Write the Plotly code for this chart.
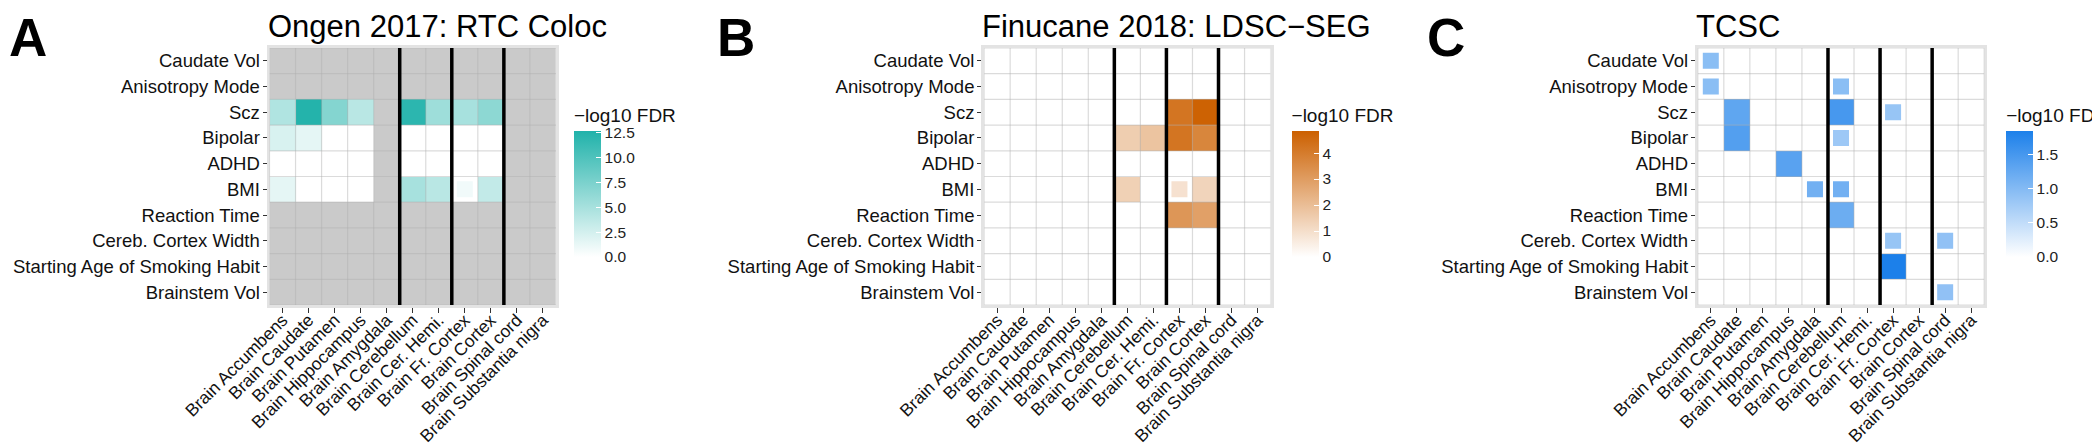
import plotly.graph_objects as go

# ---------------- data ----------------
cols = ["Brain Accumbens", "Brain Caudate", "Brain Putamen", "Brain Hippocampus",
        "Brain Amygdala", "Brain Cerebellum", "Brain Cer. Hemi.", "Brain Fr. Cortex",
        "Brain Cortex", "Brain Spinal cord", "Brain Substantia nigra"]
rows = ["Caudate Vol", "Anisotropy Mode", "Scz", "Bipolar", "ADHD", "BMI",
        "Reaction Time", "Cereb. Cortex Width", "Starting Age of Smoking Habit",
        "Brainstem Vol"]

N = None
ongen_values = [
    [N, N, N, N, N, N, N, N, N, N, N],
    [N, N, N, N, N, N, N, N, N, N, N],
    [4.5, 12.5, 7.0, 4.0, N, 12.0, 5.5, 5.0, 6.5, N, N],
    [2.2, 1.5, 0, 0, N, 0, 0, 0, 0, N, N],
    [0, 0, 0, 0, N, 0, 0, 0, 0, N, N],
    [1.5, 0, 0, 0, N, 5.0, 4.0, 0, 3.5, N, N],
    [N, N, N, N, N, N, N, N, N, N, N],
    [N, N, N, N, N, N, N, N, N, N, N],
    [N, N, N, N, N, N, N, N, N, N, N],
    [N, N, N, N, N, N, N, N, N, N, N],
]
ongen_small_rows = ["BMI"]
ongen_small_cols = ["Brain Fr. Cortex"]
ongen_small_vals = [0.8]
ongen_max = 12.7

finucane_values = [
    [0, 0, 0, 0, 0, 0, 0, 0, 0, 0, 0],
    [0, 0, 0, 0, 0, 0, 0, 0, 0, 0, 0],
    [0, 0, 0, 0, 0, 0, 0, 4.2, 4.8, 0, 0],
    [0, 0, 0, 0, 0, 1.5, 1.8, 4.2, 3.7, 0, 0],
    [0, 0, 0, 0, 0, 0, 0, 0, 0, 0, 0],
    [0, 0, 0, 0, 0, 1.4, 0, 0, 1.3, 0, 0],
    [0, 0, 0, 0, 0, 0, 0, 3.2, 2.9, 0, 0],
    [0, 0, 0, 0, 0, 0, 0, 0, 0, 0, 0],
    [0, 0, 0, 0, 0, 0, 0, 0, 0, 0, 0],
    [0, 0, 0, 0, 0, 0, 0, 0, 0, 0, 0],
]
finucane_small_rows = ["BMI"]
finucane_small_cols = ["Brain Fr. Cortex"]
finucane_small_vals = [0.9]
finucane_max = 4.85

tcsc_values = [
    [0, 0, 0, 0, 0, 0, 0, 0, 0, 0, 0],
    [0, 0, 0, 0, 0, 0, 0, 0, 0, 0, 0],
    [0, 1.3, 0, 0, 0, 1.5, 0, 0, 0, 0, 0],
    [0, 1.4, 0, 0, 0, 0, 0, 0, 0, 0, 0],
    [0, 0, 0, 1.35, 0, 0, 0, 0, 0, 0, 0],
    [0, 0, 0, 0, 0, 0, 0, 0, 0, 0, 0],
    [0, 0, 0, 0, 0, 1.2, 0, 0, 0, 0, 0],
    [0, 0, 0, 0, 0, 0, 0, 0, 0, 0, 0],
    [0, 0, 0, 0, 0, 0, 0, 1.85, 0, 0, 0],
    [0, 0, 0, 0, 0, 0, 0, 0, 0, 0, 0],
]
tcsc_small_rows = ["Caudate Vol", "Anisotropy Mode", "Anisotropy Mode", "Scz", "Bipolar",
                   "BMI", "BMI", "Cereb. Cortex Width", "Cereb. Cortex Width", "Brainstem Vol"]
tcsc_small_cols = ["Brain Accumbens", "Brain Accumbens", "Brain Cerebellum", "Brain Fr. Cortex",
                   "Brain Cerebellum", "Brain Amygdala", "Brain Cerebellum", "Brain Fr. Cortex",
                   "Brain Spinal cord", "Brain Spinal cord"]
tcsc_small_vals = [0.95, 0.95, 0.95, 0.85, 0.8, 1.15, 1.15, 0.85, 0.9, 0.9]
tcsc_max = 1.85

separators = [4.5, 6.5, 8.5]

titles = ["Ongen 2017: RTC Coloc", "Finucane 2018: LDSC\u2212SEG", "TCSC"]
letters = ["A", "B", "C"]
high_colors = ["#20B2AA", "#CC6000", "#1C80EA"]

# ---------------- layout geometry ----------------
W, H = 2100, 445
panel_left = [262, 978, 1693]
panel_w = 287
plot_top, plot_bot = 40, 297
cbar_left = [567, 1286, 2002]
letter_x = [0, 709, 1421]

FONT = "Liberation Sans, Arial, Helvetica, sans-serif"

fig = go.Figure()

panels = [
    (ongen_values, ongen_small_rows, ongen_small_cols, ongen_small_vals, ongen_max,
     [0, 2.5, 5, 7.5, 10, 12.5], ["0.0", "2.5", "5.0", "7.5", "10.0", "12.5"]),
    (finucane_values, finucane_small_rows, finucane_small_cols, finucane_small_vals, finucane_max,
     [0, 1, 2, 3, 4], ["0", "1", "2", "3", "4"]),
    (tcsc_values, tcsc_small_rows, tcsc_small_cols, tcsc_small_vals, tcsc_max,
     [0, 0.5, 1.0, 1.5], ["0.0", "0.5", "1.0", "1.5"]),
]

layout_updates = {}
shapes = []
annotations = []

for i, (vals, srows, scols, svals, vmax, tv, tt) in enumerate(panels):
    sfx = "" if i == 0 else str(i + 1)
    xa, ya = "x" + sfx, "y" + sfx
    ca = "coloraxis" + sfx

    # NA mask (grey tiles)
    mask = [[1 if v is None else None for v in r] for r in vals]
    if any(v is not None for r in mask for v in r):
        fig.add_trace(go.Heatmap(z=mask, x=cols, y=rows, xaxis=xa, yaxis=ya,
                                 colorscale=[[0, "#CACACA"], [1, "#CACACA"]],
                                 showscale=False, hoverinfo="skip"))
    fig.add_trace(go.Heatmap(z=vals, x=cols, y=rows, xaxis=xa, yaxis=ya, coloraxis=ca,
                             hoverongaps=False))
    fig.add_trace(go.Scatter(x=scols, y=srows, xaxis=xa, yaxis=ya, mode="markers",
                             marker=dict(symbol="square", size=16, color=svals, coloraxis=ca,
                                         line=dict(width=0)),
                             showlegend=False))

    x0 = panel_left[i] / W
    x1 = (panel_left[i] + panel_w) / W
    y0 = 1 - plot_bot / H
    y1 = 1 - plot_top / H
    layout_updates["xaxis" + sfx] = dict(
        domain=[x0, x1], anchor=ya, range=[-0.5, len(cols) - 0.5],
        tickangle=-45, tickfont=dict(size=17.5, color="#111", family=FONT),
        ticks="outside", ticklen=5, tickwidth=1.3, tickcolor="#333",
        ticklabelstandoff=-10,
        showgrid=False, zeroline=False, showline=True, mirror=True,
        linecolor="#E3E3E3", linewidth=3, automargin=False,
        categoryorder="array", categoryarray=cols)
    layout_updates["yaxis" + sfx] = dict(
        domain=[y0, y1], anchor=xa, range=[len(rows) - 0.5, -0.5],
        tickfont=dict(size=18.5, color="#111", family=FONT),
        ticks="outside", ticklen=4, tickwidth=1.3, tickcolor="#333",
        ticklabelstandoff=-1,
        showgrid=False, zeroline=False, showline=True, mirror=True,
        linecolor="#E3E3E3", linewidth=3, automargin=False,
        categoryorder="array", categoryarray=rows)
    layout_updates[ca] = dict(
        cmin=0, cmax=vmax,
        colorscale=[[0, "#FFFFFF"], [1, high_colors[i]]],
        colorbar=dict(
            x=cbar_left[i] / W, xanchor="left", xpad=0, ypad=0,
            y=1 - 97 / H, yanchor="top",
            lenmode="pixels", len=152, thickness=27, outlinewidth=0,
            tickvals=tv, ticktext=tt, ticks="inside", ticklen=5,
            tickcolor="white", tickwidth=1.2,
            tickfont=dict(size=15.5, color="#222", family=FONT),
            title=dict(text="\u2212log10 FDR", side="top",
                       font=dict(size=19, color="#111", family=FONT)),
        ))

    # cell grid lines
    for k in range(len(cols) + 1):
        shapes.append(dict(type="line", xref=xa, yref=ya, x0=k - 0.5, x1=k - 0.5,
                           y0=-0.5, y1=len(rows) - 0.5, layer="above",
                           line=dict(color="rgba(175,175,175,0.45)", width=1.2)))
    for k in range(len(rows) + 1):
        shapes.append(dict(type="line", xref=xa, yref=ya, y0=k - 0.5, y1=k - 0.5,
                           x0=-0.5, x1=len(cols) - 0.5, layer="above",
                           line=dict(color="rgba(175,175,175,0.45)", width=1.2)))
    # black separators
    for s in separators:
        shapes.append(dict(type="line", xref=xa, yref=ya, x0=s, x1=s,
                           y0=-0.5, y1=len(rows) - 0.5, layer="above",
                           line=dict(color="black", width=3.5)))

    annotations.append(dict(text=titles[i], xref="paper", yref="paper",
                            x=(panel_left[i] - 4) / W, y=1 + 1 / H, xanchor="left", yanchor="top",
                            showarrow=False, font=dict(size=31, color="black", family=FONT)))
    annotations.append(dict(text="<b>%s</b>" % letters[i], xref="paper", yref="paper",
                            x=letter_x[i] / W, y=1 + 1 / H, xanchor="left", yanchor="top",
                            borderpad=0,
                            showarrow=False, font=dict(size=53, color="black", family=FONT)))

fig.update_layout(
    width=W, height=H,
    margin=dict(l=0, r=0, t=0, b=0),
    paper_bgcolor="white", plot_bgcolor="white",
    showlegend=False,
    font=dict(family=FONT),
    shapes=shapes, annotations=annotations,
    **layout_updates,
)

fig.write_html("out.html")
